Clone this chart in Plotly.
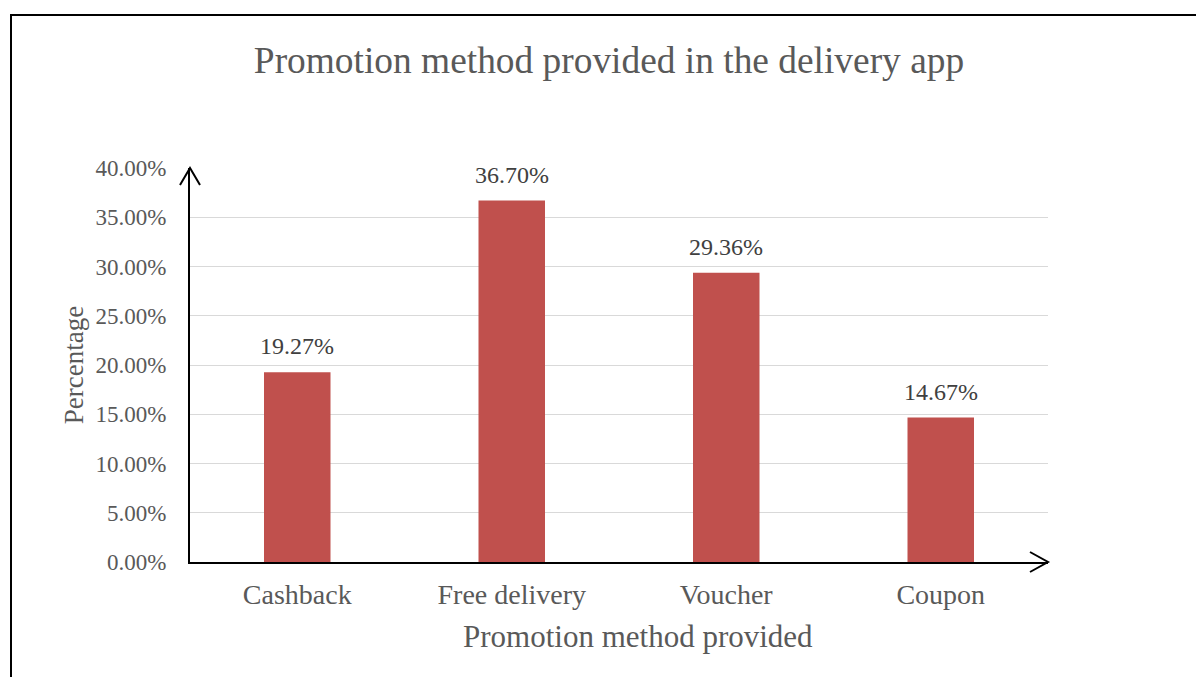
import plotly.graph_objects as go

# Survey results: share of respondents per promotion method
categories = ["Cashback", "Free delivery", "Voucher", "Coupon"]
shares = [0.1927, 0.3670, 0.2936, 0.1467]
y_ticks = [0.0, 0.05, 0.10, 0.15, 0.20, 0.25, 0.30, 0.35, 0.40]

FONT = "Liberation Serif, Times New Roman, serif"
GREY = "#595959"

W, H = 1196, 677
L, R, T, B = 190, 148, 168, 115
PW, PH = W - L - R, H - T - B


def px(x):
    return (x - L) / PW


def py(y):
    return (H - B - y) / PH


fig = go.Figure(
    go.Bar(
        x=categories,
        y=shares,
        marker=dict(color="#C0504D", line=dict(width=0)),
        width=0.31,
        cliponaxis=False,
    )
)

# value labels above each bar
annotations = [
    dict(x=c, y=v, xref="x", yref="y", text=f"{v * 100:.2f}%",
         showarrow=False, yanchor="bottom", yshift=11,
         font=dict(family=FONT, size=24, color="#404040"))
    for c, v in zip(categories, shares)
]
# category axis title
annotations.append(
    dict(x=px(638), y=py(636), xref="paper", yref="paper",
         text="Promotion method provided", showarrow=False,
         xanchor="center", yanchor="middle",
         font=dict(family=FONT, size=31, color=GREY))
)

shapes = [
    # outer chart frame
    dict(type="rect", xref="paper", yref="paper",
         x0=px(11), x1=px(1240), y0=py(15), y1=py(720),
         line=dict(color="#000000", width=2), layer="below"),
    # open arrowhead on the value axis
    dict(type="path", xref="paper", yref="paper",
         path=f"M {px(180)} {py(185)} L {px(190)} {py(168)} L {px(200)} {py(185)}",
         line=dict(color="#000000", width=2)),
    # open arrowhead on the category axis
    dict(type="path", xref="paper", yref="paper",
         path=f"M {px(1030)} {py(552)} L {px(1048)} {py(562)} L {px(1030)} {py(572)}",
         line=dict(color="#000000", width=2)),
]

fig.update_layout(
    width=W, height=H,
    margin=dict(l=L, r=R, t=T, b=B),
    paper_bgcolor="white", plot_bgcolor="white",
    showlegend=False,
    title=dict(text="Promotion method provided in the delivery app",
               x=609 / W, xanchor="center", y=1 - 60 / H, yanchor="middle",
               font=dict(family=FONT, size=37.4, color=GREY)),
    xaxis=dict(
        range=[-0.5, 3.5],
        showline=True, linecolor="#000000", linewidth=2,
        showgrid=False, zeroline=False,
        ticks="outside", ticklen=6, tickcolor="rgba(0,0,0,0)",
        tickfont=dict(family=FONT, size=28, color=GREY),
    ),
    yaxis=dict(
        range=[0, 0.40],
        tickvals=y_ticks, tickformat=".2%",
        showline=True, linecolor="#000000", linewidth=2,
        showgrid=True, gridcolor="#D9D9D9", gridwidth=1,
        zeroline=False,
        ticks="outside", ticklen=17, tickcolor="rgba(0,0,0,0)",
        tickfont=dict(family=FONT, size=23, color=GREY),
        title=dict(text="Percentage", standoff=4,
                   font=dict(family=FONT, size=27, color=GREY)),
    ),
    annotations=annotations,
    shapes=shapes,
)

fig.write_html("out.html")
